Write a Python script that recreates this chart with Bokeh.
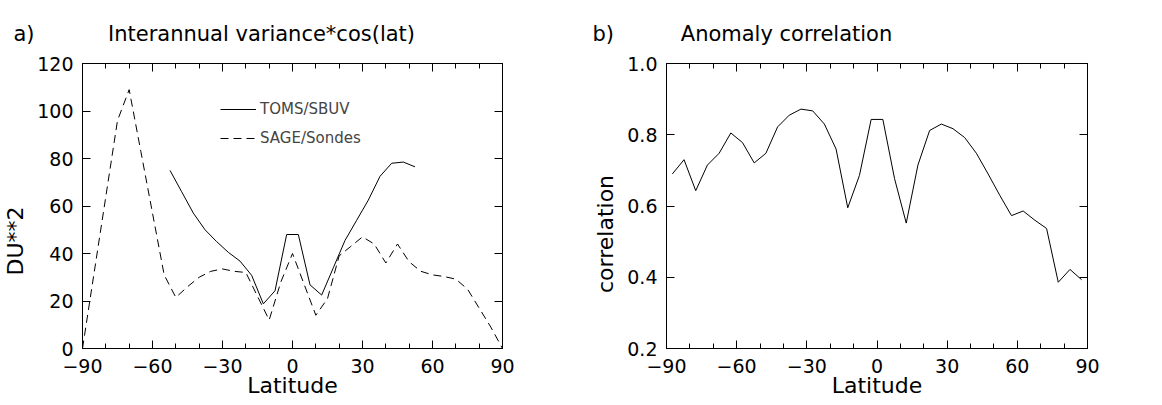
from bokeh.plotting import figure
from bokeh.models import (FixedTicker, LinearAxis, Legend, LegendItem, Range1d, Title,
                          CustomJSTickFormatter)
from bokeh.layouts import row
from bokeh.embed import file_html
from bokeh.resources import INLINE

# ---- data ----
toms_lat = [-52.5, -47.5, -42.5, -37.5, -32.5, -27.5, -22.5, -17.5, -12.5, -7.5, -2.5,
            2.5, 7.5, 12.5, 17.5, 22.5, 27.5, 32.5, 37.5, 42.5, 47.5, 52.5]
toms_var = [75, 66, 57, 50, 45, 40.5, 36.8, 30.8, 18.8, 24.3, 48,
            48, 26.8, 22.5, 34, 45.5, 54, 62.5, 72.5, 78, 78.5, 76.5]

sage_lat = [-90, -85, -80, -75, -70, -65, -60, -55, -50, -45, -40, -35, -30, -25, -20,
            -15, -10, -5, 0, 5, 10, 15, 20, 25, 30, 35, 40, 45, 50, 55, 60, 65, 70,
            75, 80, 85, 90]
sage_var = [0, 32, 64, 96, 109, 83, 57, 31, 21.5, 26, 30, 32.5, 33.5, 32.5, 32,
            22, 12, 28, 40, 27, 14, 21, 39, 43, 47, 44, 36, 44, 36.5, 32.5, 31, 30.3, 29.2,
            25, 17, 9, 0]

corr_lat = [-87.5, -82.5, -77.5, -72.5, -67.5, -62.5, -57.5, -52.5, -47.5, -42.5, -37.5,
            -32.5, -27.5, -22.5, -17.5, -12.5, -7.5, -2.5, 2.5, 7.5, 12.5, 17.5, 22.5,
            27.5, 32.5, 37.5, 42.5, 47.5, 52.5, 57.5, 62.5, 67.5, 72.5, 77.5, 82.5, 87.5]
corr_val = [0.69, 0.73, 0.643, 0.715, 0.748, 0.805, 0.778, 0.721, 0.748, 0.822, 0.855,
            0.872, 0.867, 0.83, 0.76, 0.595, 0.686, 0.843, 0.843, 0.677, 0.552, 0.715, 0.812,
            0.83, 0.817, 0.792, 0.748, 0.69, 0.63, 0.573, 0.586, 0.56, 0.537, 0.386, 0.422, 0.393]

x_ticks = [-90, -60, -30, 0, 30, 60, 90]
x_tick_labels = ["\u221290", "\u221260", "\u221230", "0", "30", "60", "90"]
x_minor = [-80, -70, -50, -40, -20, -10, 10, 20, 40, 50, 70, 80]
left_y_ticks = [0, 20, 40, 60, 80, 100, 120]
left_y_labels = ["0", "20", "40", "60", "80", "100", "120"]
right_y_ticks = [0.2, 0.4, 0.6, 0.8, 1.0]
right_y_labels = ["0.2", "0.4", "0.6", "0.8", "1.0"]

FONT = "DejaVu Sans"
TICK_FS = "19px"
LAB_FS = "22px"
TITLE_FS = "21px"
NB = "\u00a0"


def style_axes(p, ylo, yhi, yticks, ylabels, ylabel):
    p.x_range = Range1d(-90, 90)
    p.y_range = Range1d(ylo, yhi)
    p.xaxis.ticker = FixedTicker(ticks=x_ticks, minor_ticks=x_minor)
    p.yaxis.ticker = FixedTicker(ticks=yticks, minor_ticks=[])
    p.xaxis.major_label_overrides = {t: l for t, l in zip(x_ticks, x_tick_labels)}
    p.yaxis.major_label_overrides = {t: l for t, l in zip(yticks, ylabels)}
    for ax in p.xaxis:
        ax.major_tick_in = 8
        ax.major_tick_out = 0
        ax.minor_tick_in = 5
        ax.minor_tick_out = 0
        ax.major_label_standoff = 10
        ax.axis_label_standoff = -3
    for ax in p.yaxis:
        ax.major_tick_in = 8
        ax.major_tick_out = 0
        ax.minor_tick_in = 0
        ax.minor_tick_out = 0
        ax.major_label_standoff = 9
        ax.axis_label_standoff = 6
    for ax in list(p.xaxis) + list(p.yaxis):
        ax.major_label_text_font = FONT
        ax.major_label_text_font_size = TICK_FS
        ax.major_label_text_color = "black"
        ax.axis_line_color = "black"
        ax.major_tick_line_color = "black"
        ax.minor_tick_line_color = "black"
        ax.axis_label_text_font = FONT
        ax.axis_label_text_font_size = LAB_FS
        ax.axis_label_text_font_style = "normal"
        ax.axis_label_text_color = "black"
    p.xaxis.axis_label = "Latitude"
    p.yaxis.axis_label = ylabel
    blank = CustomJSTickFormatter(code="return ''")
    top = LinearAxis(ticker=FixedTicker(ticks=x_ticks, minor_ticks=x_minor), formatter=blank,
                     major_tick_in=8, major_tick_out=0, minor_tick_in=5, minor_tick_out=0,
                     axis_line_color="black", major_label_standoff=0)
    right = LinearAxis(ticker=FixedTicker(ticks=yticks, minor_ticks=[]), formatter=blank,
                       major_tick_in=8, major_tick_out=0, minor_tick_in=0, minor_tick_out=0,
                       axis_line_color="black", major_label_standoff=0)
    p.add_layout(top, "above")
    p.add_layout(right, "right")
    p.xgrid.grid_line_color = None
    p.ygrid.grid_line_color = None
    p.outline_line_color = "black"
    p.background_fill_color = "white"
    p.border_fill_color = "white"


H = 403
# ---- left panel ----
t1 = Title(text="a)" + NB * 11 + "Interannual variance*cos(lat)", align="left", offset=-69,
           text_font=FONT, text_font_size=TITLE_FS, text_font_style="normal",
           text_color="black", standoff=35)
p1 = figure(width=580, height=H, output_backend="svg", toolbar_location=None, title=t1,
            min_border_left=79, min_border_right=78, min_border_top=63, min_border_bottom=H - 348)
r_toms = p1.line(toms_lat, toms_var, line_color="black", line_width=1)
r_sage = p1.line(sage_lat, sage_var, line_color="black", line_width=1, line_dash="8 5")
style_axes(p1, 0, 120, left_y_ticks, left_y_labels, "DU**2" + NB * 10)

leg = Legend(items=[LegendItem(label="TOMS/SBUV", renderers=[r_toms]),
                    LegendItem(label="SAGE/Sondes", renderers=[r_sage])],
             location=(138, 197), border_line_color=None, background_fill_alpha=0,
             padding=0, margin=0, spacing=3, glyph_width=36, glyph_height=26,
             label_height=26, label_standoff=4, label_text_font=FONT,
             label_text_font_size="15px")
p1.add_layout(leg, "center")

# ---- right panel ----
t2 = Title(text="b)" + NB * 10 + "Anomaly correlation", align="left", offset=-74,
           text_font=FONT, text_font_size=TITLE_FS, text_font_style="normal",
           text_color="black", standoff=35)
p2 = figure(width=574, height=H, output_backend="svg", toolbar_location=None, title=t2,
            min_border_left=86, min_border_right=67, min_border_top=63, min_border_bottom=H - 348)
p2.line(corr_lat, corr_val, line_color="black", line_width=1)
style_axes(p2, 0.2, 1.0, right_y_ticks, right_y_labels, "correlation" + NB * 8)

layout = row(p1, p2, spacing=0)
open("out.html", "w").write(file_html(layout, INLINE))
